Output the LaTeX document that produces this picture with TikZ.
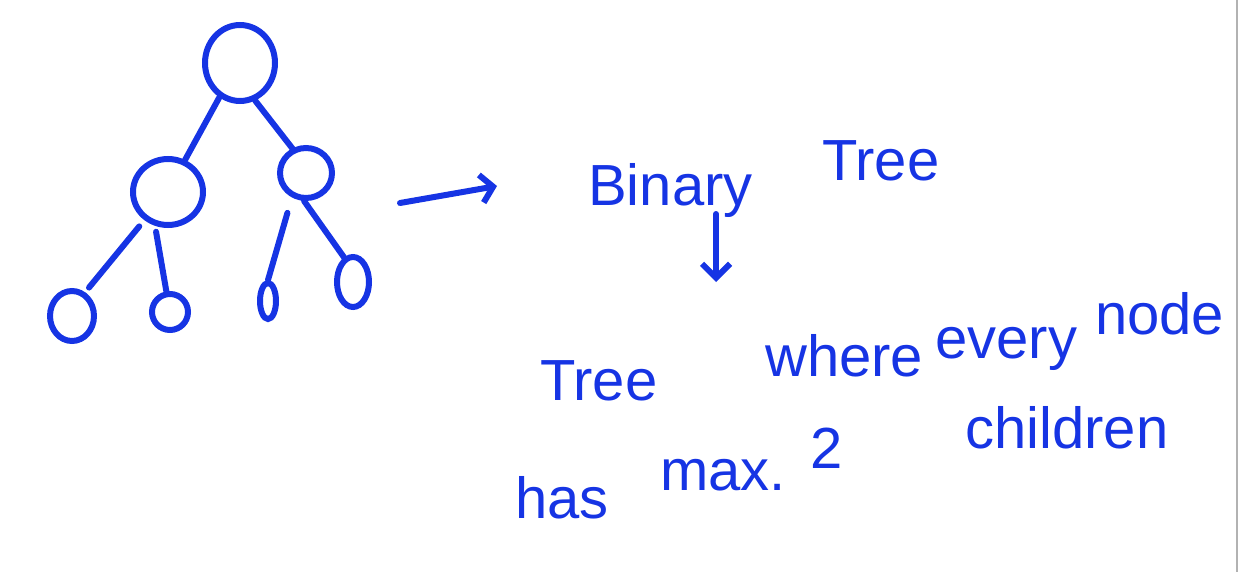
\documentclass[tikz,border=0pt]{standalone}
\usepackage{fontspec}
\setmainfont{Liberation Sans}
\usetikzlibrary{shapes.geometric,arrows.meta}
\definecolor{inkblue}{RGB}{22,52,228}

\begin{document}
\begin{tikzpicture}[x=1pt, y=-1pt,
		treenode/.style={draw=inkblue, ellipse, line width=6pt, inner sep=0pt},
		pen/.style={draw=inkblue, line width=6pt, line cap=round, line join=round},
		hand/.style={text=inkblue, font=\fontsize{58}{62}\selectfont, inner sep=0pt, anchor=base west}]
		\useasboundingbox (0,0) rectangle (1241,572);
		\draw[gray!60, line width=2pt] (1237,0) -- (1237,572);

		% the tree
		\node[treenode, minimum width=70pt, minimum height=76pt] (root) at (240,63) {};
		\node[treenode, minimum width=70pt, minimum height=66pt] (left) at (168,192) {};
		\node[treenode, minimum width=52pt, minimum height=50pt] (right) at (306,173) {};

		\node[treenode, minimum width=44pt, minimum height=50pt] (ll) at (72,316) {};
		\node[treenode, minimum width=36pt, minimum height=36pt] (lr) at (170,312) {};
		\node[treenode, minimum width=16pt, minimum height=36pt] (rl) at (268,301) {};
		\node[treenode, minimum width=32pt, minimum height=50pt] (rr) at (353,282) {};

		\draw[pen] (root.239) -- (left.62);
		\draw[pen] (root.-68) -- (right.119);
		\draw[pen, shorten <=8pt, shorten >=6pt] (left.-130) -- (ll.61);
		\draw[pen, shorten <=6pt] (left.-111) -- (lr.100);
		\draw[pen, shorten <=16pt] (right.-120) -- (rl.north);
		\draw[pen] (right.-94) -- (rr.110);

		% arrows
		\coordinate (tipstart) at (400,203);
		\coordinate (tipend) at (497,186);
		\draw[pen, -{Straight Barb[length=12pt, width=28pt]}] (tipstart) -- (tipend);

		\coordinate (downstart) at (716,214);
		\coordinate (downend) at (716,282);
		\draw[pen, -{Straight Barb[length=14pt, width=28pt]}] (downstart) -- (downend);

		% text
		\node[hand] (binary) at (588,205) {Binary};
		\node[hand] (tree) at (822,180) {Tree};

		\node[hand] (tree2) at (540,400) {Tree};
		\node[hand] (where) at (765,376) {where};
		\node[hand] (every) at (935,358) {every};
		\node[hand] (nodeword) at (1095,334) {node};

		\node[hand] (has) at (515,518) {has};
		\node[hand] (max) at (660,490) {max.};
		\node[hand] (two) at (810,468) {2};
		\node[hand] (children) at (965,448) {children};

	\end{tikzpicture}
\end{document}
